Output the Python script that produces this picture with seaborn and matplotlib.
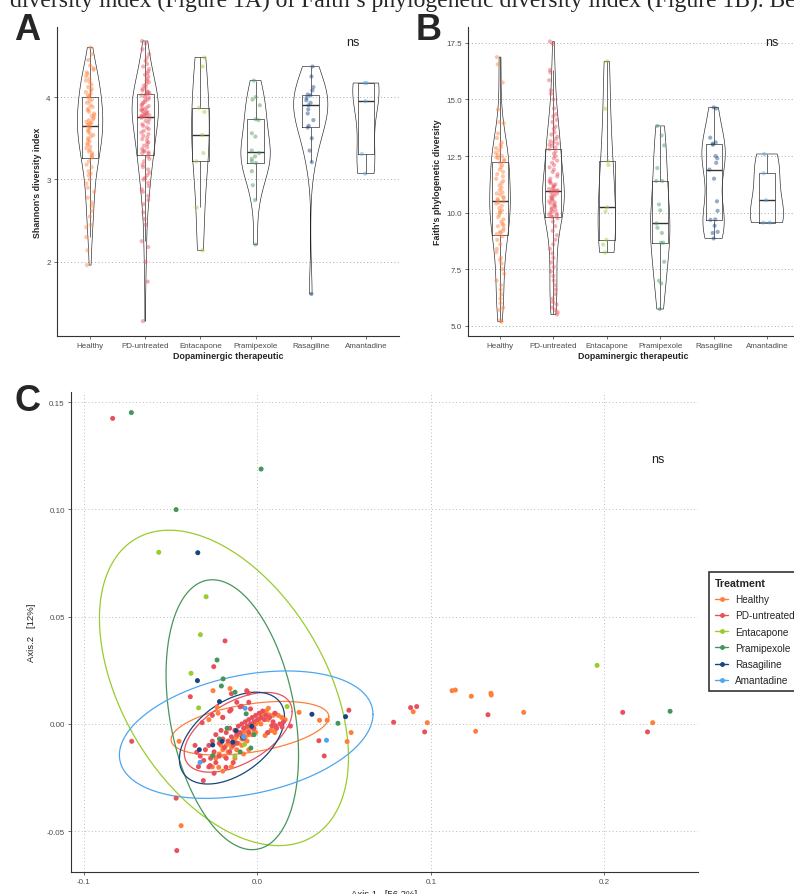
import numpy as np
import pandas as pd
import matplotlib
matplotlib.use("Agg")
import matplotlib.pyplot as plt
import seaborn as sns
from matplotlib.lines import Line2D

# ---------------- data ----------------
groups = ["Healthy", "PD-untreated", "Entacapone", "Pramipexole", "Rasagiline", "Amantadine"]
colors = ["#FF7F3A", "#E8505B", "#99CC2E", "#46965A", "#17457F", "#4DA6F0"]

shannon_healthy = [4.60, 4.52, 4.45, 4.38, 4.35, 4.33, 4.30, 4.28, 4.25, 4.22, 4.20, 4.18, 4.15, 4.12, 4.10,
                   4.08, 4.06, 4.04, 4.02, 4.01, 3.99, 3.97, 3.95, 3.93, 3.90, 3.88, 3.86, 3.84, 3.82, 3.80,
                   3.78, 3.77, 3.75, 3.73, 3.72, 3.70, 3.69, 3.68, 3.67, 3.66, 3.64, 3.62, 3.60, 3.58, 3.56,
                   3.54, 3.52, 3.50, 3.48, 3.46, 3.44, 3.42, 3.40, 3.38, 3.36, 3.34, 3.32, 3.30, 3.28, 3.27,
                   3.22, 3.15, 3.10, 3.07, 3.05, 3.00, 2.95, 2.90, 2.85, 2.78, 2.72, 2.68, 2.62, 2.55, 2.45,
                   2.42, 2.30, 2.14, 1.96, 3.18]
shannon_pd = [4.68, 4.65, 4.58, 4.52, 4.48, 4.44, 4.40, 4.37, 4.34, 4.31, 4.29, 4.27, 4.25, 4.22, 4.20,
              4.18, 4.16, 4.14, 4.12, 4.10, 4.08, 4.07, 4.06, 4.05, 4.04,
              4.03, 4.02, 4.00, 3.99, 3.97, 3.96, 3.94, 3.93, 3.91, 3.90, 3.89, 3.87, 3.86, 3.85, 3.84,
              3.83, 3.82, 3.81, 3.80, 3.79, 3.78, 3.78, 3.77, 3.77, 3.76,
              3.75, 3.73, 3.71, 3.69, 3.67, 3.65, 3.63, 3.61, 3.59, 3.57, 3.55, 3.53, 3.51, 3.49, 3.47,
              3.45, 3.43, 3.41, 3.39, 3.37, 3.35, 3.34, 3.33, 3.32, 3.31,
              3.28, 3.25, 3.22, 3.18, 3.15, 3.12, 3.08, 3.05, 3.02, 3.00, 2.96, 2.92, 2.88, 2.85, 2.80,
              2.75, 2.70, 2.60, 2.52, 2.45, 2.25, 2.18, 2.00, 1.76, 1.28]
shannon_entacapone = [4.48, 4.37, 3.87, 3.82, 3.54, 3.32, 3.22, 2.66, 2.14]
shannon_pramipexole = [4.20, 4.00, 3.97, 3.90, 3.73, 3.72, 3.56, 3.52, 3.35, 3.32, 3.28, 3.25, 3.22, 3.20,
                       3.10, 2.93, 2.75, 2.21]
shannon_rasagiline = [1.61, 3.21, 3.35, 3.50, 3.63, 3.65, 3.72, 3.80, 3.85, 3.90, 3.93, 3.96, 3.99, 4.02,
                      4.03, 4.08, 4.12, 4.25, 4.37]
shannon_amantadine = [3.07, 3.31, 3.95, 4.17, 4.17]

faith_healthy = [16.87, 16.55, 15.75, 14.55, 14.00, 13.95, 13.50, 13.30, 13.10, 13.00, 12.90, 12.85, 12.75,
                 12.65, 12.55, 12.50, 12.45, 12.40, 12.35, 12.28,
                 12.20, 12.10, 12.00, 11.90, 11.80, 11.70, 11.60, 11.50, 11.40, 11.30, 11.20, 11.10, 11.00,
                 10.90, 10.85, 10.80, 10.70, 10.65, 10.60, 10.55,
                 10.50, 10.45, 10.40, 10.30, 10.20, 10.10, 10.05, 10.00, 9.90, 9.80, 9.70, 9.60, 9.50,
                 9.45, 9.40, 9.30, 9.20, 9.15, 9.10, 9.05,
                 8.95, 8.80, 8.60, 8.40, 8.25, 8.00, 7.90, 7.75, 7.50, 7.30, 7.00, 6.80, 6.60, 6.40, 6.20,
                 6.00, 5.80, 5.70, 5.25, 5.18]
faith_pd = [17.56, 17.45, 16.30, 16.20, 15.85, 15.40, 15.25, 15.00, 14.60, 14.35, 14.25, 14.10, 14.00,
            13.80, 13.70, 13.55, 13.45, 13.35, 13.25, 13.15, 13.10, 13.05, 13.00, 12.95, 12.88,
            12.80, 12.70, 12.60, 12.50, 12.40, 12.30, 12.20, 12.10, 12.00, 11.90, 11.80, 11.70, 11.60,
            11.50, 11.40, 11.35, 11.30, 11.25, 11.20, 11.15, 11.10, 11.05, 11.00, 10.98, 10.97,
            10.95, 10.90, 10.85, 10.80, 10.75, 10.70, 10.65, 10.60, 10.55, 10.50, 10.45, 10.40, 10.35,
            10.30, 10.25, 10.20, 10.15, 10.10, 10.05, 10.00, 9.95, 9.90, 9.87, 9.84, 9.81,
            9.75, 9.60, 9.40, 9.20, 9.00, 8.80, 8.60, 8.40, 8.20, 8.00, 7.80, 7.60, 7.40, 7.20, 7.00,
            6.80, 6.60, 6.40, 6.20, 6.05, 5.95, 5.80, 5.70, 5.60, 5.50]
faith_entacapone = [16.68, 14.59, 12.27, 12.10, 10.23, 10.05, 8.80, 8.59, 8.24]
faith_pramipexole = [13.83, 13.41, 12.97, 11.97, 11.40, 11.40, 10.36, 10.10, 9.52, 9.33, 9.10, 8.67, 8.67,
                     7.83, 6.99, 6.87, 5.74]
faith_rasagiline = [8.86, 9.10, 9.15, 9.42, 9.68, 9.70, 10.08, 10.50, 11.50, 11.90, 12.20, 12.40, 12.50,
                    13.00, 13.04, 13.10, 13.31, 14.60, 14.65]
faith_amantadine = [9.56, 9.56, 10.55, 11.74, 12.59]

# PCoA coordinates (Axis.1, Axis.2)
pcoa_healthy_x = [-0.0256, -0.0158, 0.0240, 0.0358, 0.0402, 0.0540, 0.0517, -0.0440, -0.0452, -0.0223,
                  0.0898, 0.0979, 0.1122, 0.1141, 0.1233, 0.1346, 0.1348, 0.1258, 0.1535, 0.2279,
                  0.0063, 0.0069, 0.0104, 0.0044, 0.0056, 0.0079, 0.0094, -0.0200, -0.0227, -0.0233,
                  -0.020, -0.018, -0.016, -0.015, -0.014, -0.013, -0.012, -0.011, -0.010, -0.009, -0.008,
                  -0.007, -0.006, -0.005, -0.004, -0.003, -0.002, -0.001, 0.000, 0.001, 0.002, 0.003, 0.004,
                  -0.022, -0.024, -0.019, -0.017, -0.021, -0.012, -0.009, -0.006, -0.003, 0.006, 0.008,
                  0.010, 0.011, 0.012, 0.014, 0.016, -0.026, -0.020, -0.015, -0.013, 0.002, -0.001, -0.008,
                  -0.005, 0.005, -0.028, 0.009]
pcoa_healthy_y = [0.0155, 0.0165, 0.0054, 0.0017, 0.0017, -0.0040, -0.0082, -0.0474, -0.0081, -0.0202,
                  0.0057, 0.0006, 0.0155, 0.0158, 0.0129, 0.0143, 0.0135, -0.0034, 0.0054, 0.0006,
                  0.0073, 0.0042, 0.0047, -0.0054, -0.0042, -0.0028, -0.0011, 0.0031, 0.0050, 0.0079,
                  -0.012, -0.010, -0.009, -0.011, -0.007, -0.008, -0.006, -0.009, -0.005, -0.007, -0.004,
                  -0.006, -0.003, -0.005, -0.002, -0.001, -0.003, 0.000, 0.001, 0.002, 0.003, 0.004, 0.005,
                  -0.014, -0.016, -0.015, -0.013, -0.010, -0.012, -0.010, -0.008, -0.005, 0.002, -0.003,
                  -0.004, -0.002, 0.004, 0.003, 0.002, -0.020, -0.022, -0.020, -0.016, 0.000, -0.004, -0.014,
                  -0.012, 0.006, 0.002, 0.004]
pcoa_pd_x = [-0.0835, -0.0187, -0.0252, -0.0387, -0.0319, 0.0527, 0.0354, 0.0385, 0.0785, -0.0725,
             -0.0469, -0.0465, -0.0350, -0.0340, -0.0273, -0.0181, -0.0312, 0.0142, 0.0883, 0.0918,
             0.0964, 0.1329, 0.2106, 0.2249, -0.0062, -0.0052, -0.0150, -0.0119, -0.0050, -0.0152,
             -0.0092, -0.0040, 0.0083, 0.0104,
             -0.030, -0.028, -0.026, -0.025, -0.024, -0.022, -0.021, -0.020, -0.019, -0.018, -0.017,
             -0.016, -0.015, -0.014, -0.013, -0.012, -0.011, -0.010, -0.009, -0.008, -0.007, -0.006,
             -0.005, -0.004, -0.003, -0.002, -0.001, 0.000, 0.001, 0.002, 0.003, 0.004, 0.005, 0.007,
             0.009, 0.011, 0.013, 0.015, 0.019, -0.033, -0.031, -0.027, -0.024, -0.022, -0.018, -0.016,
             -0.012, -0.008, -0.005, -0.002, -0.020, -0.016, -0.010, -0.026, -0.036, 0.006, 0.010,
             -0.028, -0.025, -0.014]
pcoa_pd_y = [0.1424, 0.0387, 0.0267, 0.0127, 0.0006, 0.0064, -0.0078, -0.0149, 0.0008, -0.0081,
             -0.0346, -0.0590, -0.0132, -0.0199, -0.0194, -0.0202, -0.0264, -0.0014, 0.0076, 0.0081,
             -0.0037, 0.0043, 0.0054, -0.0037, 0.0155, 0.0144, 0.0141, 0.0101, 0.0101, 0.0067,
             0.0082, 0.0070, -0.0008, -0.0008,
             -0.012, -0.010, -0.008, -0.013, -0.005, -0.009, -0.003, -0.007, -0.011, -0.004, -0.008,
             -0.002, -0.006, -0.010, -0.003, -0.005, -0.001, -0.004, 0.000, -0.002, 0.001, -0.001,
             0.002, 0.000, 0.003, 0.001, 0.004, 0.002, 0.005, 0.003, 0.006, 0.002, 0.004, 0.003,
             0.001, -0.002, 0.000, 0.001, -0.001, -0.015, -0.017, -0.016, -0.018, -0.015, -0.016, -0.013,
             -0.009, -0.007, -0.004, -0.002, 0.003, 0.006, 0.008, 0.004, -0.010, -0.004, 0.005,
             -0.020, -0.023, -0.018]
pcoa_entacapone_x = [-0.0569, -0.0296, -0.0329, -0.0383, -0.0339, 0.0171, 0.1958, -0.0075, -0.0130]
pcoa_entacapone_y = [0.0800, 0.0593, 0.0416, 0.0236, 0.0075, 0.0081, 0.0273, -0.0095, -0.0150]
pcoa_pramipexole_x = [-0.0727, 0.0021, -0.0469, -0.0233, -0.0198, -0.0208, -0.0129, 0.0464, 0.2379,
                      -0.0038, -0.0065, -0.0175, -0.0258, -0.0219, -0.0100, -0.0020]
pcoa_pramipexole_y = [0.1451, 0.1188, 0.0999, 0.0298, 0.0210, 0.0177, 0.0148, 0.0003, 0.0059,
                      -0.0112, 0.0047, -0.0020, -0.0148, -0.0070, -0.0130, -0.0050]
pcoa_rasagiline_x = [-0.0344, -0.0346, -0.0219, 0.0314, 0.0508, -0.0335, -0.0033, -0.0085, -0.0204,
                     -0.0258, -0.0123, -0.0142]
pcoa_rasagiline_y = [0.0798, 0.0202, 0.0104, 0.0045, 0.0034, -0.0120, -0.0011, -0.0062, -0.0081,
                     -0.0098, -0.0031, -0.0085]
pcoa_amantadine_x = [-0.0071, 0.0398, -0.0331, -0.0080]
pcoa_amantadine_y = [0.0073, -0.0076, -0.0179, -0.0060]

# 95% ellipses: centre, half-extent along each axis, correlation
ell_cx = [-0.0043, -0.0111, -0.0193, -0.0145, -0.0147, -0.0065]
ell_cy = [-0.0020, -0.0039, 0.0168, 0.0043, -0.0066, -0.0050]
ell_ax = [0.0455, 0.0311, 0.0718, 0.0382, 0.0303, 0.0731]
ell_ay = [0.0125, 0.0186, 0.0735, 0.0629, 0.0214, 0.0297]
ell_rho = [0.42, 0.52, -0.44, -0.30, 0.46, 0.32]

x_labels_C = ["-0.1", "0.0", "0.1", "0.2"]
x_ticks_C = [-0.1, 0.0, 0.1, 0.2]
y_labels_C = ["-0.05", "0.00", "0.05", "0.10", "0.15"]
y_ticks_C = [-0.05, 0.0, 0.05, 0.10, 0.15]

# ---------------- styling ----------------
sns.set_theme(style="white")
plt.rcParams["font.family"] = ["Liberation Sans", "DejaVu Sans"]
palette = dict(zip(groups, colors))
np.random.seed(3)

W, H = 794, 895
fig = plt.figure(figsize=(W / 100, H / 100), dpi=100)


def fx(px):
    return px / W


def fy(py):
    return 1 - py / H


def long_df(lists):
    rows = []
    for g, vals in zip(groups, lists):
        for v in vals:
            rows.append((g, v))
    return pd.DataFrame(rows, columns=["group", "value"])


def style_axis(ax):
    for s in ["top", "right"]:
        ax.spines[s].set_visible(False)
    for s in ["left", "bottom"]:
        ax.spines[s].set_color("#333333")
        ax.spines[s].set_linewidth(0.8)
    ax.tick_params(axis="both", length=2.5, width=0.5, color="#333333", labelsize=5.8,
                   labelcolor="#4D4D4D", pad=2, left=True, bottom=True)


def alpha_panel(ax, lists, ylabel, ylim, yticks, ylabels):
    df = long_df(lists)
    sns.violinplot(data=df, x="group", y="value", order=groups, ax=ax, cut=0, inner=None, fill=False,
                   color="#222222", linecolor="#222222", linewidth=0.45, density_norm="area", width=0.62,
                   bw_method="silverman", bw_adjust=0.85)
    sns.boxplot(data=df, x="group", y="value", order=groups, ax=ax, fill=False, color="#333333",
                linecolor="#333333", width=0.3, showfliers=False, showcaps=False, linewidth=0.5,
                medianprops={"linewidth": 1.0, "color": "#333333"})
    sns.stripplot(data=df, x="group", y="value", order=groups, hue="group", hue_order=groups,
                  palette=palette, jitter=0.08, size=3, alpha=0.45, linewidth=0, legend=False, ax=ax)
    ax.set_xlim(-0.6, 5.6)
    ax.set_ylim(*ylim)
    ax.set_yticks(yticks)
    ax.set_yticklabels(ylabels)
    ax.yaxis.grid(True, linestyle=(0, (1, 2.5)), color="#AAAAAA", linewidth=0.7)
    ax.xaxis.grid(False)
    ax.set_axisbelow(True)
    style_axis(ax)
    ax.set_xlabel("Dopaminergic therapeutic", fontsize=6.4, fontweight="bold", labelpad=1)
    ax.set_ylabel(ylabel, fontsize=6.4, fontweight="bold", labelpad=3)


axA = fig.add_axes([fx(57), fy(337), fx(342), 309 / H])
alpha_panel(axA, [shannon_healthy, shannon_pd, shannon_entacapone, shannon_pramipexole,
                  shannon_rasagiline, shannon_amantadine],
            "Shannon's diversity index", (1.1, 4.85), [2, 3, 4], ["2", "3", "4"])

axB = fig.add_axes([fx(468), fy(337), fx(331), 309 / H])
alpha_panel(axB, [faith_healthy, faith_pd, faith_entacapone, faith_pramipexole,
                  faith_rasagiline, faith_amantadine],
            "Faith's phylogenetic diversity", (4.55, 18.2), [5, 7.5, 10, 12.5, 15, 17.5],
            ["5.0", "7.5", "10.0", "12.5", "15.0", "17.5"])

# ---------------- panel C ----------------
axC = fig.add_axes([fx(71), fy(873), fx(627), 480 / H])
pc_x = [pcoa_healthy_x, pcoa_pd_x, pcoa_entacapone_x, pcoa_pramipexole_x, pcoa_rasagiline_x, pcoa_amantadine_x]
pc_y = [pcoa_healthy_y, pcoa_pd_y, pcoa_entacapone_y, pcoa_pramipexole_y, pcoa_rasagiline_y, pcoa_amantadine_y]
rows = []
for g, xs, ys in zip(groups, pc_x, pc_y):
    for a, b in zip(xs, ys):
        rows.append((g, a, b))
dfC = pd.DataFrame(rows, columns=["Treatment", "Axis1", "Axis2"])
sns.scatterplot(data=dfC, x="Axis1", y="Axis2", hue="Treatment", hue_order=groups, palette=palette,
                s=13, linewidth=0, legend=False, ax=axC, zorder=3)

t = np.linspace(0, 2 * np.pi, 300)
for i, g in enumerate(groups):
    cov = np.array([[ell_ax[i] ** 2, ell_rho[i] * ell_ax[i] * ell_ay[i]],
                    [ell_rho[i] * ell_ax[i] * ell_ay[i], ell_ay[i] ** 2]])
    L = np.linalg.cholesky(cov)
    pts = L @ np.vstack([np.cos(t), np.sin(t)])
    axC.plot(ell_cx[i] + pts[0], ell_cy[i] + pts[1], color=colors[i], lw=0.9, zorder=2)

axC.set_xlim(-0.1075, 0.254)
axC.set_ylim(-0.069, 0.1547)
axC.set_xticks(x_ticks_C)
axC.set_xticklabels(x_labels_C)
axC.set_yticks(y_ticks_C)
axC.set_yticklabels(y_labels_C)
axC.grid(True, linestyle=(0, (1, 2.5)), color="#BBBBBB", linewidth=0.7)
axC.set_axisbelow(True)
style_axis(axC)
axC.set_xlabel("Axis.1   [56.2%]", fontsize=6.8, color="#222222", labelpad=3)
axC.set_ylabel("Axis.2   [12%]", fontsize=6.8, color="#222222", labelpad=8)

handles = [Line2D([0], [0], color=c, lw=1.0, marker="o", markersize=2.5) for c in colors]
leg = fig.legend(handles, groups, title="Treatment", loc="upper left",
                 bbox_to_anchor=(fx(709), fy(573)), frameon=True, fancybox=False,
                 edgecolor="black", fontsize=7.2, title_fontproperties={"weight": "bold", "size": 7.7},
                 handlelength=1.3, handletextpad=0.7, labelspacing=0.62, borderpad=0.6,
                 borderaxespad=0)
leg.get_frame().set_linewidth(1.2)
leg._legend_box.align = "left"

# ---------------- texts ----------------
fig.text(fx(10), fy(6.5), "diversity index (Figure 1A) of Faith\u2019s phylogenetic diversity index (Figure 1B). Be",
         family=["Liberation Serif", "DejaVu Serif"], fontsize=17, va="baseline", ha="left")
fig.text(fx(14), fy(40), "A", fontsize=26, fontweight="bold", va="baseline", ha="left")
fig.text(fx(416), fy(40), "B", fontsize=26, fontweight="bold", va="baseline", ha="left")
fig.text(fx(14), fy(411), "C", fontsize=26, fontweight="bold", va="baseline", ha="left")
fig.text(fx(353), fy(43), "ns", fontsize=9, va="center", ha="center", color="#222222")
fig.text(fx(772), fy(43), "ns", fontsize=9, va="center", ha="center", color="#222222")
fig.text(fx(658), fy(460), "ns", fontsize=9, va="center", ha="center", color="#222222")

fig.savefig("out.png", dpi=100)
